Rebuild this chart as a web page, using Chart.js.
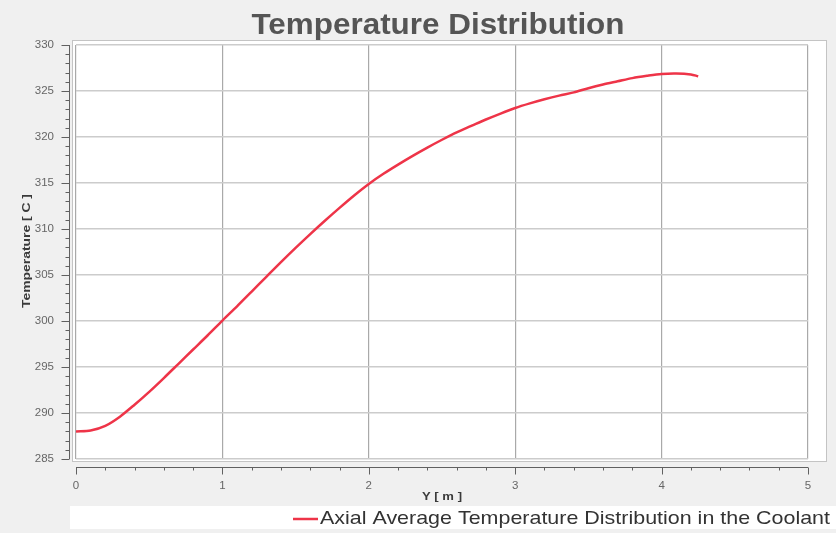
<!DOCTYPE html>
<html>
<head>
<meta charset="utf-8">
<title>Temperature Distribution</title>
<script src="https://cdn.jsdelivr.net/npm/chart.js@4"></script>
<style>
  html, body { margin: 0; padding: 0; background: #f0f0f0; }
  #wrap { width: 836px; height: 533px; }
</style>
</head>
<body>
<div id="wrap"><canvas id="chart" width="836" height="533"></canvas></div>
<script>
// Axial position along the channel [m]
const axialPosition = [0.0, 0.1, 0.2, 0.3, 0.4, 0.5, 0.6, 0.7, 0.8, 0.9,
  1.0, 1.1, 1.2, 1.3, 1.4, 1.5, 1.6, 1.7, 1.8, 1.9,
  2.0, 2.1, 2.2, 2.3, 2.4, 2.5, 2.6, 2.7, 2.8, 2.9,
  3.0, 3.1, 3.2, 3.3, 3.4, 3.5, 3.6, 3.7, 3.8, 3.9,
  4.0, 4.1, 4.2, 4.25];

// Axial average coolant temperature [C]
const coolantTemperature = [288.0, 288.1, 288.6, 289.6, 290.9, 292.3, 293.8, 295.35, 296.9, 298.45,
  300.05, 301.6, 303.2, 304.8, 306.4, 307.95, 309.45, 310.9, 312.3, 313.65,
  314.9, 316.0, 317.0, 317.95, 318.85, 319.7, 320.5, 321.2, 321.9, 322.55,
  323.15, 323.65, 324.1, 324.5, 324.85, 325.3, 325.7, 326.05, 326.4, 326.65,
  326.85, 326.9, 326.8, 326.6];

const xTicks = [0, 1, 2, 3, 4, 5];
const yTicks = [285, 290, 295, 300, 305, 310, 315, 320, 325, 330];

const chartTitle = 'Temperature Distribution';
const seriesName = 'Axial Average Temperature Distribution in the Coolant';
const xTitle = 'Y [ m ]';
const yTitle = 'Temperature [ C ]';

const FONT = "'Liberation Sans', Arial, sans-serif";
const LINE_RED = 'rgb(238, 52, 72)';

// Draws text stretched along its baseline to a given width
function fillStretched(ctx, text, x, y, width) {
  const w = ctx.measureText(text).width;
  ctx.save();
  ctx.translate(x, y);
  ctx.scale(width / w, 1);
  ctx.fillText(text, 0, 0);
  ctx.restore();
}

// Gray window background, white plot frame, title, axis titles and legend strip
const framePlugin = {
  id: 'frame',
  beforeDraw(chart) {
    const ctx = chart.ctx;
    const a = chart.chartArea;
    ctx.save();
    ctx.fillStyle = '#f0f0f0';
    ctx.fillRect(0, 0, chart.width, chart.height);
    ctx.fillStyle = '#ffffff';
    ctx.fillRect(a.left - 4, a.top - 5, a.right - a.left + 23, a.bottom - a.top + 8);
    ctx.strokeStyle = '#c4c4c4';
    ctx.lineWidth = 1;
    ctx.strokeRect(a.left - 3.5, a.top - 4.5, a.right - a.left + 22, a.bottom - a.top + 7);

    ctx.fillStyle = '#555555';
    ctx.font = 'bold 30px ' + FONT;
    ctx.textAlign = 'center';
    ctx.textBaseline = 'alphabetic';
    fillStretched(ctx, chartTitle, 438, 34, 373);
    ctx.restore();
  },
  afterDraw(chart) {
    const ctx = chart.ctx;
    const a = chart.chartArea;
    const xs = chart.scales.x;
    const ys = chart.scales.y;
    ctx.save();
    // Axis lines sit just outside the plot frame, with major and minor ticks
    ctx.strokeStyle = '#606060';
    ctx.lineWidth = 1;
    const axisX = a.left - 6.5;
    const axisY = a.bottom + 8.5;
    ctx.beginPath();
    ctx.moveTo(axisX, ys.getPixelForValue(330));
    ctx.lineTo(axisX, ys.getPixelForValue(285));
    ctx.moveTo(xs.getPixelForValue(0), axisY);
    ctx.lineTo(xs.getPixelForValue(5), axisY);
    for (let v = 285; v <= 330; v += 1) {
      const y = Math.round(ys.getPixelForValue(v)) + 0.5;
      const len = (v % 5 === 0) ? 8 : 4;
      ctx.moveTo(axisX - len, y);
      ctx.lineTo(axisX, y);
    }
    for (let i = 0; i <= 25; i++) {
      const x = Math.round(xs.getPixelForValue(i * 0.2)) + 0.5;
      const len = (i % 5 === 0) ? 7 : 3;
      ctx.moveTo(x, axisY);
      ctx.lineTo(x, axisY + len);
    }
    ctx.stroke();

    // Axis titles
    ctx.fillStyle = '#3a3a3a';
    ctx.font = 'bold 10px ' + FONT;
    ctx.textAlign = 'center';
    ctx.textBaseline = 'middle';
    fillStretched(ctx, xTitle, (a.left + a.right) / 2, 497, 40);
    ctx.save();
    ctx.translate(27, 251);
    ctx.rotate(-Math.PI / 2);
    fillStretched(ctx, yTitle, 0, 0, 114);
    ctx.restore();

    // Legend strip at the bottom
    ctx.fillStyle = '#ffffff';
    ctx.fillRect(70, 506, 766, 23);
    ctx.strokeStyle = LINE_RED;
    ctx.lineWidth = 2.5;
    ctx.beginPath();
    ctx.moveTo(293, 519);
    ctx.lineTo(318, 519);
    ctx.stroke();
    ctx.fillStyle = '#333333';
    ctx.font = '19px ' + FONT;
    ctx.textAlign = 'left';
    ctx.textBaseline = 'middle';
    fillStretched(ctx, seriesName, 320, 519, 510);
    ctx.restore();
  }
};

new Chart(document.getElementById('chart'), {
  type: 'line',
  data: {
    datasets: [{
      label: seriesName,
      data: axialPosition.map((x, i) => ({ x: x, y: coolantTemperature[i] })),
      borderColor: LINE_RED,
      borderWidth: 2.5,
      pointRadius: 0,
      tension: 0.3,
      fill: false
    }]
  },
  options: {
    responsive: false,
    animation: false,
    layout: { padding: { left: 0, right: 28, top: 45, bottom: 0 } },
    plugins: {
      legend: { display: false },
      title: { display: false },
      tooltip: { enabled: false }
    },
    scales: {
      x: {
        type: 'linear',
        min: 0,
        max: 5,
        afterFit(s) { s.height = 74; },
        afterBuildTicks(s) { s.ticks = xTicks.map(v => ({ value: v })); },
        grid: { color: '#a9a9a9', lineWidth: 1.2, drawTicks: false },
        border: { display: false },
        ticks: {
          padding: 20,
          color: '#666666',
          font: { family: FONT, size: 11.5 },
          maxRotation: 0
        }
      },
      y: {
        type: 'linear',
        min: 285,
        max: 330,
        afterFit(s) { s.width = 76; },
        afterBuildTicks(s) { s.ticks = yTicks.map(v => ({ value: v })); },
        grid: { color: '#cccccc', lineWidth: 1.6, drawTicks: false },
        border: { display: false },
        ticks: {
          padding: 22,
          color: '#666666',
          font: { family: FONT, size: 11.5 }
        }
      }
    }
  },
  plugins: [framePlugin]
});
</script>
</body>
</html>
